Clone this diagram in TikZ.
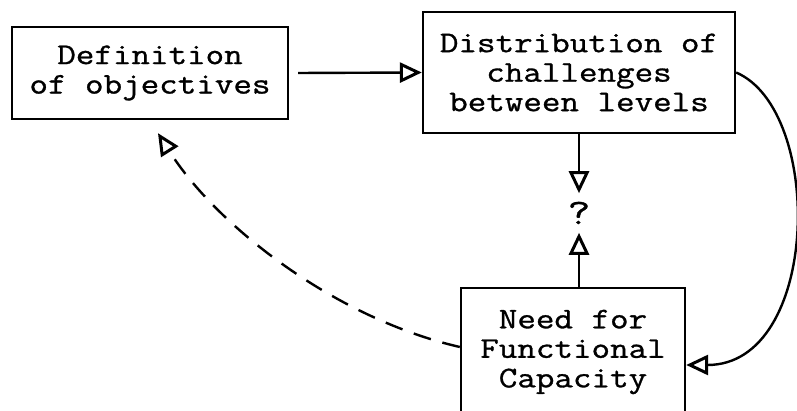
\documentclass[tikz,border=0pt]{standalone}
\usepackage{fontspec}
\setmonofont{Latin Modern Mono}[FakeStretch=1.2,FakeBold=1]
\usetikzlibrary{arrows.meta}
\begin{document}
\begin{tikzpicture}[x=1pt,y=1pt,
  boxfont/.style={font=\ttfamily\fontsize{30}{29.5}\selectfont},
  box/.style={draw, line width=2.4pt, align=center, inner sep=0pt, boxfont},
  txt/.style={align=center, inner sep=0pt, boxfont},
  arr/.style={line width=2.4pt, -{Triangle[open, length=22pt, width=20pt, line width=3pt]}},
  dashedarr/.style={arr, dash pattern=on 18pt off 12pt}
]
\useasboundingbox (0,0) rectangle (797,411);
\fill[white] (0,0) rectangle (797,411);
\clip (0,0) rectangle (797,411);

\node[box, minimum width=276pt, minimum height=92pt] (A) at (150,338) {Definition\\of objectives};
\node[box, minimum width=312pt, minimum height=121pt] (B) at (579,338.5) {Distribution of\\challenges\\between levels};
\node[box, minimum width=224pt, minimum height=154pt] (C) at (573,46) {};
\node[txt] (Ct) at (573,59) {Need for\\Functional\\Capacity};
\node[txt, inner ysep=8.5pt, font=\ttfamily\fontsize{36}{36}\selectfont] (q) at (579,198) {?};
\coordinate (dEnd) at ([shift={(8pt,-13pt)}]A.south);

\draw[arr] ([xshift=9pt]A.east) -- (B.west);
\draw[arr] (B.south -| q.north) -- (q.north);
\draw[arr] (C.north -| q.south) -- (q.south);
\draw[arr] (B.east) .. controls (825,300) and (820,46) .. (C.east);
\draw[dashedarr] ([yshift=18pt]C.west) .. controls (334,93) and (216,186) .. (dEnd);
\end{tikzpicture}
\end{document}
